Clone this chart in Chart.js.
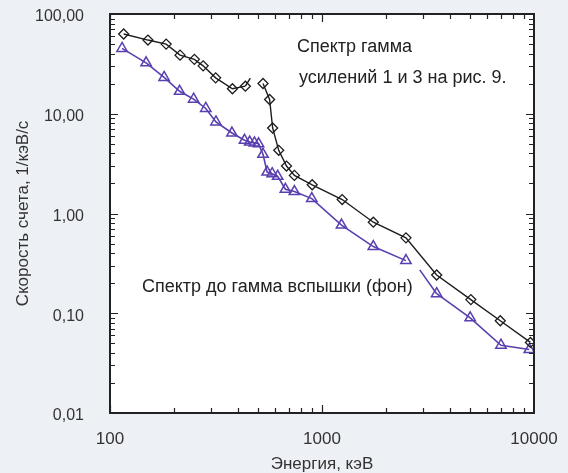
<!DOCTYPE html>
<html>
<head>
<meta charset="utf-8">
<script src="https://cdn.jsdelivr.net/npm/chart.js@4/dist/chart.umd.min.js"></script>
<style>
  html, body { margin: 0; padding: 0; background: #edf0f5; }
  #wrap { width: 568px; height: 473px; }
</style>
</head>
<body>
<div id="wrap"><canvas id="chart" width="568" height="473"></canvas></div>
<script>
// Спектр гамма (усиления 1 и 3), энергия кэВ / скорость счета 1/кэВ/с
const blackE = [116, 151, 184, 214, 250, 275, 315, 378, 435,
  527, 566, 585, 625, 680, 741, 899, 1245, 1746, 2489, 3474, 5035, 6933, 9618];
const blackR = [63, 54.8, 49.9, 38.7, 35.1, 30.2, 22.9, 17.8, 18.9,
  20.1, 13.9, 7.2, 4.3, 2.99, 2.41, 1.94, 1.38, 0.818, 0.57, 0.242, 0.137, 0.0841, 0.051];
const blackBreak = 9;            // line is broken after this many points
const blackStubE = [435, 459];   // short line piece after the break
const blackStubR = [18.9, 22.7];

// Спектр до гамма вспышки (фон)
const purpleE = [114, 148, 180, 213, 248, 283, 316, 376, 431, 456, 480, 502, 527, 551, 582, 618, 672, 741, 895, 1236, 1746, 2489,
  3474, 5000, 6984, 9506];
const purpleR = [45.2, 32.4, 23.1, 16.8, 14.0, 11.3, 8.28, 6.41, 5.42, 5.2, 5.1, 5.0, 3.92, 2.6, 2.51, 2.36, 1.75, 1.66, 1.41, 0.766, 0.466, 0.337,
  0.157, 0.09, 0.0478, 0.0433];
const purpleBreak = 22;
const purpleStubE = [2891, 3474];
const purpleStubR = [0.272, 0.157];

const xTicks = [100, 1000, 10000];
const yTicks = [0.01, 0.1, 1, 10, 100];

const BLACK = '#1c1c1c';
const PURPLE = '#5a3fae';
const FONT = 'Arial, "Liberation Sans", sans-serif';

function toPoints(xs, ys, brk) {
  const pts = xs.map((x, i) => ({ x: x, y: ys[i] }));
  if (brk != null) pts.splice(brk, 0, { x: (xs[brk - 1] + xs[brk]) / 2, y: null });
  return pts;
}

// рамка, белое поле и засечки внутрь по всем сторонам
const framePlugin = {
  id: 'frame',
  beforeDraw(chart) {
    const { ctx, chartArea: a } = chart;
    ctx.save();
    ctx.fillStyle = '#ffffff';
    ctx.fillRect(a.left, a.top, a.right - a.left, a.bottom - a.top);
    ctx.restore();
  },
  afterDraw(chart) {
    const { ctx, chartArea: a, scales } = chart;
    ctx.save();
    ctx.strokeStyle = '#222';
    ctx.lineWidth = 1.2;
    ctx.beginPath();
    for (let k = 100; k < 10000; k *= 10) {
      for (let m = 1; m <= 9; m++) {
        const v = k * m;
        const px = Math.round(scales.x.getPixelForValue(v)) + 0.5;
        const len = m === 1 ? 8 : 5;
        ctx.moveTo(px, a.bottom); ctx.lineTo(px, a.bottom - len);
        ctx.moveTo(px, a.top); ctx.lineTo(px, a.top + len);
      }
    }
    for (let k = 0.01; k < 100; k *= 10) {
      for (let m = 1; m <= 9; m++) {
        const v = k * m;
        const py = Math.round(scales.y.getPixelForValue(v)) + 0.5;
        const len = m === 1 ? 8 : 5;
        ctx.moveTo(a.left, py); ctx.lineTo(a.left + len, py);
        ctx.moveTo(a.right, py); ctx.lineTo(a.right - len, py);
      }
    }
    ctx.stroke();
    ctx.lineWidth = 2;
    ctx.strokeRect(a.left, a.top, a.right - a.left, a.bottom - a.top);

    ctx.fillStyle = '#222';
    ctx.font = '18px ' + FONT;
    ctx.textBaseline = 'middle';
    ctx.textAlign = 'left';
    ctx.fillText('Спектр гамма', 297, 47);
    ctx.fillText('усилений 1 и 3 на рис. 9.', 299, 78);
    ctx.fillText('Спектр до гамма вспышки (фон)', 142, 287);
    ctx.restore();
  }
};

new Chart(document.getElementById('chart'), {
  type: 'line',
  data: {
    datasets: [
      {
        data: toPoints(blackE, blackR, blackBreak),
        borderColor: BLACK,
        borderWidth: 1.4,
        pointStyle: 'rectRot',
        pointRadius: 5,
        pointBorderWidth: 1.3,
        pointBorderColor: BLACK,
        pointBackgroundColor: 'rgba(0,0,0,0)',
        spanGaps: false
      },
      {
        data: toPoints(blackStubE, blackStubR),
        borderColor: BLACK,
        borderWidth: 1.4,
        pointRadius: 0
      },
      {
        data: toPoints(purpleE, purpleR, purpleBreak),
        borderColor: PURPLE,
        borderWidth: 1.6,
        pointStyle: 'triangle',
        pointRadius: 6,
        pointBorderWidth: 1.5,
        pointBorderColor: PURPLE,
        pointBackgroundColor: 'rgba(0,0,0,0)',
        spanGaps: false
      },
      {
        data: toPoints(purpleStubE, purpleStubR),
        borderColor: PURPLE,
        borderWidth: 1.6,
        pointRadius: 0
      }
    ]
  },
  options: {
    responsive: false,
    animation: false,
    layout: { padding: { top: 0, right: 34, left: 0, bottom: 0 } },
    plugins: { legend: { display: false }, tooltip: { enabled: false } },
    scales: {
      x: {
        type: 'logarithmic',
        min: 100,
        max: 10000,
        grid: { display: false },
        border: { display: false },
        afterBuildTicks: s => { s.ticks = xTicks.map(v => ({ value: v })); },
        afterFit: s => { s.height = 60; },
        ticks: {
          color: '#333',
          font: { family: FONT, size: 17 },
          padding: 8,
          maxRotation: 0,
          callback: v => String(v)
        },
        title: {
          display: true,
          text: 'Энергия, кэВ',
          color: '#333',
          font: { family: FONT, size: 17, lineHeight: 1.0 },
          padding: { top: 0, bottom: 0 }
        }
      },
      y: {
        type: 'logarithmic',
        min: 0.01,
        max: 100,
        grid: { display: false },
        border: { display: false },
        afterBuildTicks: s => { s.ticks = yTicks.map(v => ({ value: v })); },
        afterFit: s => { s.width = 110; s.paddingTop = 14; s.paddingBottom = 0; },
        ticks: {
          color: '#333',
          font: { family: FONT, size: 16 },
          padding: 18,
          labelOffset: 3,
          callback: v => Number(v).toFixed(2).replace('.', ',')
        },
        title: {
          display: true,
          text: 'Скорость счета, 1/кэВ/с',
          color: '#333',
          font: { family: FONT, size: 17 },
          padding: { top: 13, bottom: 0 }
        }
      }
    }
  },
  plugins: [framePlugin]
});
</script>
</body>
</html>
